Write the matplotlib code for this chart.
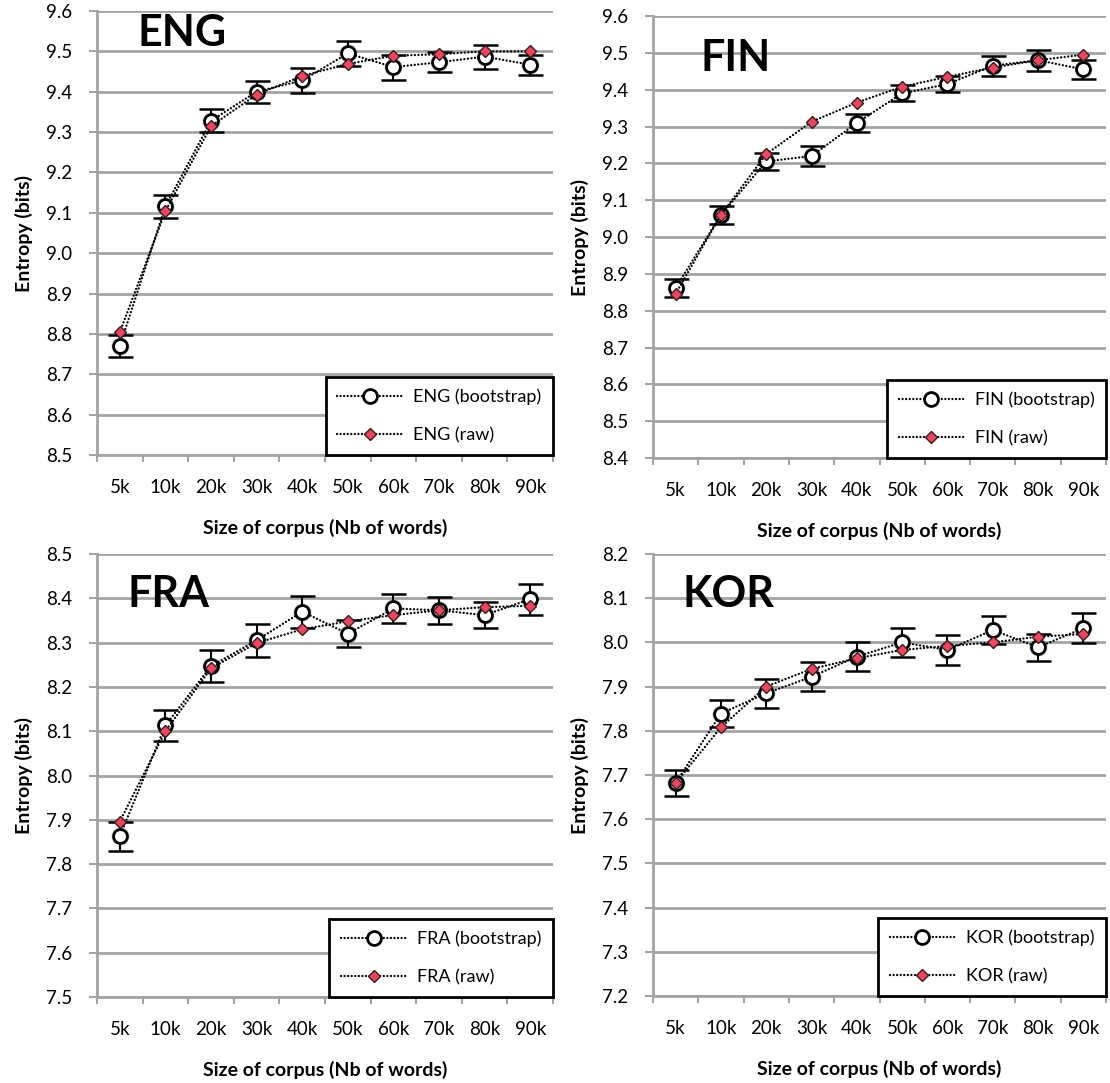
import matplotlib.pyplot as plt
import numpy as np

plt.rcParams['font.family'] = ['Lato', 'DejaVu Sans']

sizes = ['5k', '10k', '20k', '30k', '40k', '50k', '60k', '70k', '80k', '90k']

eng_boot = [8.77, 9.116, 9.328, 9.40, 9.428, 9.495, 9.461, 9.473, 9.487, 9.467]
eng_err = [0.028, 0.029, 0.028, 0.027, 0.03, 0.031, 0.031, 0.025, 0.03, 0.025]
eng_raw = [8.804, 9.104, 9.315, 9.393, 9.439, 9.469, 9.489, 9.493, 9.50, 9.50]

fin_boot = [8.862, 9.06, 9.205, 9.22, 9.31, 9.39, 9.415, 9.465, 9.48, 9.455]
fin_err = [0.025, 0.025, 0.022, 0.027, 0.025, 0.022, 0.022, 0.027, 0.028, 0.025]
fin_raw = [8.846, 9.06, 9.225, 9.313, 9.365, 9.408, 9.435, 9.46, 9.48, 9.495]

fra_boot = [7.863, 8.113, 8.247, 8.305, 8.37, 8.32, 8.377, 8.373, 8.362, 8.398]
fra_err = [0.033, 0.035, 0.036, 0.037, 0.036, 0.03, 0.032, 0.03, 0.03, 0.035]
fra_raw = [7.896, 8.10, 8.242, 8.299, 8.33, 8.348, 8.362, 8.373, 8.38, 8.383]

kor_boot = [7.682, 7.839, 7.885, 7.922, 7.968, 8.0, 7.983, 8.028, 7.989, 8.032]
kor_err = [0.03, 0.03, 0.033, 0.033, 0.033, 0.032, 0.033, 0.032, 0.03, 0.034]
kor_raw = [7.682, 7.808, 7.90, 7.94, 7.964, 7.983, 7.992, 8.0, 8.013, 8.019]

grey = '#a3a3a3'
red = '#e8485f'
dots = (0, (0.01, 1.5))

panels = [
    # name, boot, err, raw, ylim, axes rect (px: left, top, right, bottom), name pos
    ('ENG', eng_boot, eng_err, eng_raw, (8.5, 9.6), (97, 11, 553, 455), (0.088, 0.95)),
    ('FIN', fin_boot, fin_err, fin_raw, (8.4, 9.6), (653, 16, 1106, 458), (0.104, 0.905)),
    ('FRA', fra_boot, fra_err, fra_raw, (7.5, 8.5), (97, 554, 553, 997), (0.066, 0.91)),
    ('KOR', kor_boot, kor_err, kor_raw, (7.2, 8.2), (653, 554, 1106, 996), (0.066, 0.91)),
]

W, H = 1110, 1083
fig = plt.figure(figsize=(W / 100, H / 100), dpi=100)

x = np.arange(len(sizes))
for name, boot, err, raw, ylim, (l, t, r, b), npos in panels:
    ax = fig.add_axes([l / W, 1 - b / H, (r - l) / W, (b - t) / H])

    # soft grey halo behind the markers
    ax.plot(x, boot, ls='none', marker='o', ms=13, mfc='#808080', mec='none',
            alpha=0.35, zorder=2)
    ax.errorbar(x, boot, yerr=err, fmt='none', ecolor='black', elinewidth=1.5,
                capsize=9, capthick=1.8, zorder=3)
    ax.plot(x, boot, linestyle=dots, color='black', lw=1.7, marker='o', ms=10,
            mfc='white', mec='black', mew=2, dash_capstyle='round',
            label=f'{name} (bootstrap)', zorder=4)
    ax.plot(x, raw, linestyle=dots, color='black', lw=1.7, marker='D', ms=6,
            mfc=red, mec='#3a1a1a', mew=1, dash_capstyle='round',
            label=f'{name} (raw)', zorder=5)

    ax.set_xlim(-0.5, len(sizes) - 0.5)
    ax.set_ylim(*ylim)
    yt = np.arange(ylim[0], ylim[1] + 0.001, 0.1)
    ax.set_yticks(yt)
    ax.set_yticklabels([f'{v:.1f}' for v in yt])
    ax.set_xticks(x)
    ax.set_xticklabels(sizes)
    ax.set_xticks(np.arange(-0.5, len(sizes)), minor=True)
    ax.tick_params(axis='x', which='major', length=0, pad=17, labelsize=13.5)
    ax.tick_params(axis='x', which='minor', length=5, width=1.5, color=grey)
    ax.tick_params(axis='y', length=6, width=1.5, color=grey, labelsize=13.5, pad=12)

    ax.grid(axis='y', color=grey, lw=2)
    ax.set_axisbelow(True)
    for s in ('top', 'right'):
        ax.spines[s].set_visible(False)
    for s in ('left', 'bottom'):
        ax.spines[s].set_color(grey)
        ax.spines[s].set_linewidth(2)

    ax.set_ylabel('Entropy (bits)', fontsize=14, fontweight='bold', labelpad=9)
    ax.set_xlabel('Size of corpus (Nb of words)', fontsize=14, fontweight='bold', labelpad=17)

    ax.text(npos[0], npos[1], name, transform=ax.transAxes, fontsize=31,
            fontweight='bold', ha='left', va='center')

    leg = ax.legend(loc='lower right', bbox_to_anchor=(1, 0), borderaxespad=0,
                    fontsize=13, handlelength=3.6, handletextpad=0.6,
                    labelspacing=1.2, borderpad=0.65, fancybox=False, framealpha=1)
    leg.get_frame().set_edgecolor('black')
    leg.get_frame().set_linewidth(2)
    leg.set_zorder(10)

fig.savefig('out.png', dpi=100)
